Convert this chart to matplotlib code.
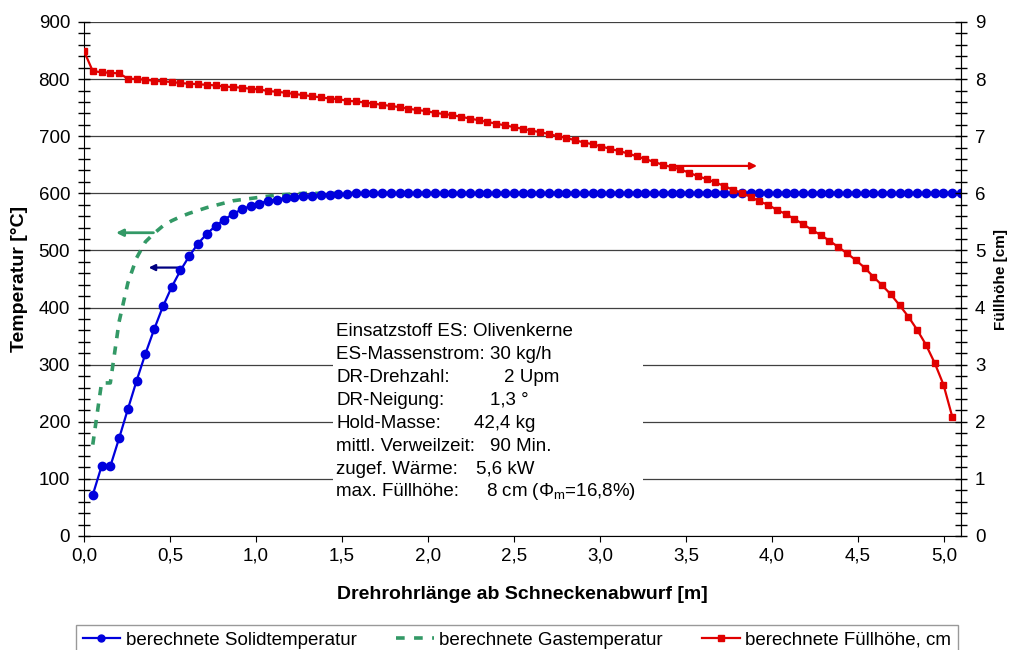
import numpy as np
import matplotlib
matplotlib.use("Agg")
import matplotlib.pyplot as plt
from matplotlib.lines import Line2D
from matplotlib.patches import Rectangle
from matplotlib.ticker import FuncFormatter, MultipleLocator

plt.rcParams["font.family"] = ["Liberation Sans", "DejaVu Sans"]
plt.rcParams["mathtext.fontset"] = "custom"
plt.rcParams["mathtext.rm"] = "Liberation Sans"

# --- data ---
dx = 0.051  # segment length [m], 100 segments over 5.1 m
x_fill = np.arange(100) * dx          # Füllhöhe at segment start
x_temp = np.arange(1, 101) * dx       # temperatures at segment end

solid_temp = [72, 122, 122, 171, 222, 272, 319, 362, 402, 436,
              465, 490, 512, 529, 543, 554, 564, 572, 578, 582,
              587, 589, 592, 594, 595, 596, 597, 597.5, 598, 599] + [600] * 70

gas_temp = [160, 268, 268, 375, 443, 487, 515, 530, 543, 552,
            559, 565, 570, 575, 579, 583, 587, 589, 591, 593,
            595, 597, 598, 599] + [600] * 76

fill_height = [8.49, 8.14, 8.12, 8.11, 8.10, 8.01, 8.00, 7.99, 7.97, 7.96,
               7.95, 7.93, 7.92, 7.91, 7.90, 7.89, 7.87, 7.86, 7.85, 7.83,
               7.82, 7.79, 7.78, 7.76, 7.74, 7.72, 7.70, 7.68, 7.66, 7.65,
               7.62, 7.61, 7.59, 7.57, 7.55, 7.53, 7.51, 7.48, 7.46, 7.44,
               7.41, 7.39, 7.37, 7.34, 7.31, 7.28, 7.25, 7.22, 7.19, 7.16,
               7.13, 7.10, 7.07, 7.04, 7.00, 6.97, 6.93, 6.89, 6.86, 6.82,
               6.78, 6.74, 6.70, 6.65, 6.60, 6.55, 6.50, 6.46, 6.42, 6.36,
               6.30, 6.25, 6.19, 6.13, 6.06, 6.01, 5.94, 5.86, 5.80, 5.71,
               5.64, 5.55, 5.46, 5.36, 5.27, 5.17, 5.06, 4.95, 4.83, 4.70,
               4.54, 4.39, 4.23, 4.04, 3.84, 3.61, 3.35, 3.03, 2.65, 2.09]

info_labels = ["Einsatzstoff ES: Olivenkerne", "ES-Massenstrom: 30 kg/h",
               "DR-Drehzahl:", "DR-Neigung:", "Hold-Masse:",
               "mittl. Verweilzeit:", "zugef. Wärme:", "max. Füllhöhe:"]
info_values = ["", "", "2 Upm", "1,3 °", "42,4 kg", "90 Min.", "5,6 kW",
               r"8 cm (Φ$_{\mathrm{m}}$=16,8%)"]
info_value_x = [0, 0, 2.44, 2.36, 2.27, 2.36, 2.28, 2.34]

legend_labels = ["berechnete Solidtemperatur", "berechnete Gastemperatur",
                 "berechnete Füllhöhe, cm"]

BLUE = "#0000dd"
GREEN = "#339966"
RED = "#e00000"
NAVY = "#000080"
FS = 13.5

fig = plt.figure(figsize=(10.13, 6.5), dpi=100)
ax = fig.add_axes([84 / 1013, 1 - 536 / 650, 877 / 1013, 514 / 650])
ax2 = ax.twinx()

ax.set_xlim(0, 5.1)
ax.set_ylim(0, 900)
ax2.set_ylim(0, 9)

ax.plot(x_temp, gas_temp, color=GREEN, lw=2.6, dashes=(2.3, 2.3), zorder=3)
ax.plot(x_temp, solid_temp, color=BLUE, lw=1.6, marker="o", ms=6, zorder=4)
ax2.plot(x_fill, fill_height, color=RED, lw=1.6, marker="s", ms=5, zorder=4)

# grid / ticks
ax.yaxis.set_major_locator(MultipleLocator(100))
ax.yaxis.set_minor_locator(MultipleLocator(20))
ax2.yaxis.set_major_locator(MultipleLocator(1))
ax2.yaxis.set_minor_locator(MultipleLocator(0.2))
ax.xaxis.set_major_locator(MultipleLocator(0.5))
ax.grid(axis="y", color="#404040", lw=0.9)
ax.xaxis.set_major_formatter(FuncFormatter(lambda v, p: f"{v:.1f}".replace(".", ",")))

for a in (ax, ax2):
    a.spines["top"].set_visible(False)
    a.tick_params(axis="y", which="both", direction="inout", length=8,
                  width=1, labelsize=FS, color="black")
ax.tick_params(axis="x", direction="out", length=4, labelsize=FS, pad=4)
ax.tick_params(axis="y", which="major", pad=6)
ax2.tick_params(axis="y", which="major", pad=6)
ax2.spines["left"].set_visible(False)
ax2.spines["bottom"].set_visible(False)

ax.set_ylabel("Temperatur [°C]", fontsize=14, fontweight="bold", labelpad=8)
ax.set_xlabel("Drehrohrlänge ab Schneckenabwurf [m]", fontsize=14,
              fontweight="bold", labelpad=16)
ax2.set_ylabel("Füllhöhe [cm]", fontsize=11, fontweight="bold", labelpad=6)

# arrows pointing to the axis of each curve
ax.annotate("", xy=(0.17, 531), xytext=(0.42, 531),
            arrowprops=dict(arrowstyle="-|>", color=GREEN, lw=2, mutation_scale=10))
ax.annotate("", xy=(0.36, 470), xytext=(0.56, 470),
            arrowprops=dict(arrowstyle="-|>", color=NAVY, lw=1.6, mutation_scale=9))
ax2.annotate("", xy=(3.93, 6.48), xytext=(3.43, 6.48),
             arrowprops=dict(arrowstyle="-|>", color=RED, lw=1.6, mutation_scale=10))


# text box with process parameters
def px(xp, yp):
    return (xp - 84) / 877, (536 - yp) / 514


x0, y0 = px(333, 313)
x1, y1 = px(643, 520)
ax.add_patch(Rectangle((x0, y1), x1 - x0, y0 - y1, transform=ax.transAxes,
                       facecolor="white", edgecolor="none", zorder=2))
for i, (lab, val, vx) in enumerate(zip(info_labels, info_values, info_value_x)):
    yy = px(0, 331.7 + i * 22.9)[1]
    ax.text(px(336, 0)[0], yy, lab, transform=ax.transAxes, fontsize=FS,
            va="center", ha="left", zorder=5)
    if val:
        ax.text(vx, yy, val, transform=ax.get_xaxis_transform(), fontsize=FS,
                va="center", ha="left", zorder=5)

handles = [Line2D([], [], color=BLUE, lw=1.6, marker="o", ms=5),
           Line2D([], [], color=GREEN, lw=2.6, dashes=(2.4, 2.6)),
           Line2D([], [], color=RED, lw=1.6, marker="s", ms=4)]
leg = fig.legend(handles, legend_labels, loc="upper left",
                 bbox_to_anchor=(76 / 1013, 0, 882 / 1013, 1 - 625 / 650),
                 mode="expand", ncol=3, fontsize=FS, frameon=True,
                 fancybox=False, borderaxespad=0, handlelength=2.0,
                 handletextpad=0.3, borderpad=0.35)
leg.get_frame().set_edgecolor("#808080")
leg.get_frame().set_linewidth(1.0)

fig.savefig("out.png", dpi=100)
